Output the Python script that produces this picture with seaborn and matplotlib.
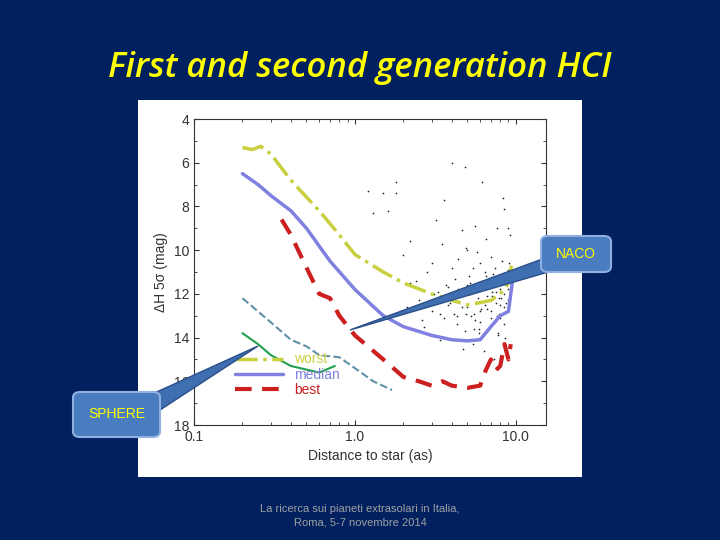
import numpy as np
import matplotlib
matplotlib.use("Agg")
import matplotlib.pyplot as plt
import seaborn as sns
from matplotlib.patches import FancyBboxPatch, Polygon
from matplotlib.ticker import MultipleLocator

sns.set_style("ticks")
plt.rcParams['font.family'] = ['Liberation Sans', 'DejaVu Sans']

worst_x = [0.2,0.23,0.26,0.3,0.4,0.6,0.8,1.0,1.5,2,3,4,5,6,7,8,9,9.5]
worst_y = [5.3,5.4,5.25,5.6,6.8,8.2,9.3,10.2,11.0,11.5,12.0,12.3,12.5,12.4,12.3,12.0,11.5,10.5]
median_x = [0.2,0.25,0.3,0.4,0.5,0.7,1,1.5,2,3,4,5,6,7,8,9,9.5]
median_y = [6.5,7.0,7.5,8.2,9.0,10.5,11.8,13.0,13.5,13.9,14.1,14.15,14.1,13.5,13.0,12.8,11.5]
best_x = [0.35,0.4,0.5,0.6,0.7,0.8,1.0,1.5,2,2.5,3,3.5,4,5,6,6.5,7,7.5,8,8.5,9,9.3]
best_y = [8.6,9.3,10.8,12.0,12.2,13.0,13.9,15.0,15.8,16.0,16.2,16.0,16.2,16.3,16.2,15.5,15.0,15.5,15.3,14.3,15.0,14.3]
sph1_x = [0.2,0.3,0.4,0.5,0.6,0.8,1.0,1.3,1.7]
sph1_y = [12.2,13.3,14.1,14.4,14.8,14.9,15.4,16.0,16.4]
sph2_x = [0.2,0.25,0.3,0.4,0.6,0.75]
sph2_y = [13.8,14.3,14.8,15.3,15.6,15.3]
pts_x = [1.2,1.3,1.6,1.8,1.8,2.0,2.2,2.3,2.5,2.6,2.8,3.0,3.0,3.2,3.3,3.5,3.6,3.8,4.0,4.0,4.2,4.3,4.5,4.6,4.8,5.0,5.0,5.2,5.4,5.5,5.6,5.8,6.0,6.0,6.2,6.3,6.5,6.6,6.8,7.0,7.0,7.2,7.3,7.5,7.6,7.8,8.0,8.0,8.2,8.4,8.5,8.6,8.8,9.0,9.0,9.2,2.1,2.4,2.7,3.1,3.4,3.7,4.1,4.4,4.7,5.1,5.3,5.7,6.1,6.4,6.7,7.1,7.4,7.7,8.1,8.3,8.7,9.1,2.9,3.9,4.9,5.9,6.9,7.9,8.9,1.5,2.2,3.6,4.8,6.2,
         5.2,5.6,6.1,6.6,7.1,7.6,8.1,8.6,4.4,4.9,5.4,5.9,6.4,6.9,7.4,7.9,8.4,3.4,3.8,4.3,4.6,5.0,5.5,6.0,6.5,7.0,7.5,8.0,8.5,9.0]
pts_y = [7.3,8.3,8.2,6.9,7.4,10.2,11.5,12.7,12.3,13.2,11.0,10.6,12.8,8.6,11.9,9.7,13.1,12.5,6.0,10.8,11.3,13.4,12.0,9.1,13.7,12.6,10.0,11.5,14.3,12.9,8.9,12.2,10.6,13.3,11.7,14.6,9.5,12.1,13.6,10.3,12.8,11.1,15.0,12.4,9.0,13.9,11.8,13.1,10.5,12.6,8.1,14.0,11.6,10.9,12.3,9.3,12.6,11.4,13.5,12.0,14.1,11.6,12.9,10.4,14.5,11.2,13.0,10.1,12.7,11.0,15.3,12.1,10.8,13.8,11.9,7.6,12.4,10.6,13.9,12.4,9.9,13.6,11.4,12.2,9.0,7.4,9.6,7.7,6.2,6.9,
         12.0,13.2,11.5,12.7,11.9,13.0,12.2,11.3,11.8,12.9,10.8,13.8,12.5,11.4,13.3,12.9,12.0,12.9,11.7,13.0,12.6,11.6,13.6,12.8,11.2,13.1,11.9,12.5,13.4,11.8]

fig = plt.figure(figsize=(7.2, 5.4), dpi=100)
fig.patch.set_facecolor('#002060')
fig.text(0.5, 1-68/540, "First and second generation HCI", ha='center', va='center',
         fontsize=25, style='italic', fontweight='semibold', color='#ffff00',
         family=['Open Sans', 'DejaVu Sans'])

bg = fig.add_axes([138/720, 1-477/540, 444/720, 377/540], zorder=-1)
bg.set_facecolor('white')
bg.set_xticks([]); bg.set_yticks([])
for s in bg.spines.values():
    s.set_visible(False)

ax = fig.add_axes([194/720, 1-425/540, 352/720, 306/540], zorder=1)
ax.set_xscale('log')
ax.set_xlim(0.1, 15.4)
ax.set_ylim(18, 4)
ax.scatter(pts_x, pts_y, s=1.5, color='#222222', linewidths=0, zorder=2)
sns.lineplot(x=worst_x, y=worst_y, ax=ax, color='#c8d040', lw=2.5, linestyle='-.', label='worst', sort=False)
sns.lineplot(x=median_x, y=median_y, ax=ax, color='#8080e0', lw=2.5, label='median', sort=False)
sns.lineplot(x=best_x, y=best_y, ax=ax, color='#cc2020', lw=3, linestyle=(0, (4, 2.5)), label='best', sort=False)
sns.lineplot(x=sph1_x, y=sph1_y, ax=ax, color='#6090a8', lw=1.5, linestyle='--', sort=False)
sns.lineplot(x=sph2_x, y=sph2_y, ax=ax, color='#20a050', lw=1.5, sort=False)
leg = ax.legend(loc='lower left', frameon=False, fontsize=10, handlelength=3.5, labelspacing=0.1,
                bbox_to_anchor=(0.08, 0.05))
for t, c in zip(leg.get_texts(), ['#c8d040', '#8080e0', '#cc2020']):
    t.set_color(c)
ax.set_xticks([0.1, 1, 10])
ax.set_xticklabels(['0.1', '1.0', '10.0'])
ax.set_yticks(range(4, 19, 2))
ax.yaxis.set_minor_locator(MultipleLocator(1))
ax.tick_params(which='both', direction='in', top=True, right=True, labelsize=10, colors='#333333')
ax.set_xlabel('Distance to star (as)', fontsize=10, color='#333333')
ax.set_ylabel('ΔH 5σ (mag)', fontsize=10, color='#333333')
for s in ax.spines.values():
    s.set_color('#333333')

def px(x, y):
    return (x/720, 1-y/540)

fig.patches.append(Polygon([px(545, 258), px(555, 270), px(350, 330)], closed=True,
                           transform=fig.transFigure, facecolor='#3f6fb0', edgecolor='#2a4f8a', zorder=5))
fig.patches.append(Polygon([px(150, 395), px(160, 410), px(258, 346)], closed=True,
                           transform=fig.transFigure, facecolor='#3f6fb0', edgecolor='#2a4f8a', zorder=5))
for (x0, y0, x1, y1, txt) in [(541, 236, 611, 272, 'NACO'), (73, 392, 160, 437, 'SPHERE')]:
    b = FancyBboxPatch(px(x0, y1), (x1-x0)/720, (y1-y0)/540, boxstyle='round,pad=0,rounding_size=0.01',
                       transform=fig.transFigure, facecolor='#4a7cc0', edgecolor='#8fb0e0', lw=1.5, zorder=6)
    fig.patches.append(b)
    fig.text((x0+x1)/2/720, 1-(y0+y1)/2/540, txt, ha='center', va='center', fontsize=10,
             color='#ffff00', zorder=7)

fig.text(0.5, 1-516/540, "La ricerca sui pianeti extrasolari in Italia,\nRoma, 5-7 novembre 2014",
         ha='center', va='center', fontsize=8, color='#a0a0a0', linespacing=1.4)
fig.savefig('out.png', dpi=100, facecolor=fig.get_facecolor())
